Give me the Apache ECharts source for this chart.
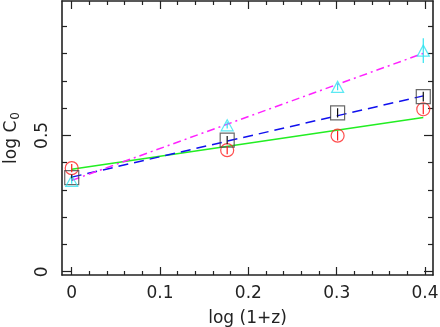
<!DOCTYPE html>
<html>
<head>
<meta charset="utf-8">
<script src="https://cdn.jsdelivr.net/npm/echarts@6/dist/echarts.min.js"></script>
<style>
  html, body { margin: 0; padding: 0; background: #fff; }
  #chart { width: 440px; height: 327px; }
</style>
</head>
<body>
<div id="chart"></div>
<script>
// log(1+z) positions for z = 0, 0.5, 1, 1.5
const xVals = [0, 0.176, 0.301, 0.398];

// measured log C0 values and their error half-widths
const circleY = [0.380, 0.446, 0.499, 0.596];
const circleErr = [0.015, 0.015, 0.018, 0.018];
const squareY = [0.345, 0.483, 0.583, 0.642];
const squareErr = [0.012, 0.015, 0.017, 0.018];
const triangleY = [0.333, 0.537, 0.678, 0.811];
const triangleErr = [0.010, 0.012, 0.012, 0.045];

// fitted lines (end points)
const greenFit = [[0, 0.376], [0.398, 0.566]];
const blueFit = [[0, 0.347], [0.398, 0.645]];
const magentaFit = [[0, 0.335], [0.398, 0.801]];

// tick positions
const xMajor = [0, 0.1, 0.2, 0.3, 0.4];
const xMinor = [0.02, 0.04, 0.06, 0.08, 0.12, 0.14, 0.16, 0.18, 0.22, 0.24, 0.26, 0.28, 0.32, 0.34, 0.36, 0.38];
const yMajor = [0, 0.5];
const yMinor = [0.1, 0.2, 0.3, 0.4, 0.6, 0.7, 0.8, 0.9];

const colors = {
  frame: '#222',
  red: '#ff2020',
  square: '#444',
  cyan: '#33e4f0',
  green: '#22ee22',
  blue: '#1010ee',
  magenta: '#ff22ff'
};

const font = 'DejaVu Sans';
const X_MIN = -0.011, X_MAX = 0.409;
const Y_MIN = -0.012, Y_MAX = 0.993;

function pts(xs, ys) {
  return xs.map((x, i) => [x, ys[i]]);
}

function errData(xs, ys, es) {
  return xs.map((x, i) => [x, ys[i] - es[i], ys[i] + es[i]]);
}

function errSeries(data, color) {
  return {
    type: 'custom',
    data: data,
    z: 4,
    renderItem: (params, api) => {
      const lo = api.coord([api.value(0), api.value(1)]);
      const hi = api.coord([api.value(0), api.value(2)]);
      return {
        type: 'line',
        shape: { x1: lo[0], y1: lo[1], x2: hi[0], y2: hi[1] },
        style: { stroke: color, lineWidth: 1.2 }
      };
    }
  };
}

function xAxisDef(position, ticks, len, showLine, withLabels) {
  return {
    type: 'value', position, min: X_MIN, max: X_MAX,
    axisLine: { show: showLine, onZero: false, lineStyle: { color: colors.frame, width: 1.6 } },
    axisTick: { show: true, inside: true, length: len, customValues: ticks,
      lineStyle: { color: colors.frame, width: 1.2 } },
    axisLabel: withLabels
      ? { show: true, customValues: ticks, margin: 10, color: '#222', fontFamily: font, fontSize: 17 }
      : { show: false },
    splitLine: { show: false }
  };
}

function yAxisDef(position, ticks, len, showLine, withLabels) {
  return {
    type: 'value', position, min: Y_MIN, max: Y_MAX,
    axisLine: { show: showLine, onZero: false, lineStyle: { color: colors.frame, width: 1.6 } },
    axisTick: { show: true, inside: true, length: len, customValues: ticks,
      lineStyle: { color: colors.frame, width: 1.2 } },
    axisLabel: withLabels
      ? { show: true, customValues: ticks, rotate: 90, margin: 11, color: '#222', fontFamily: font, fontSize: 17 }
      : { show: false },
    splitLine: { show: false }
  };
}

const xAxes = [
  xAxisDef('bottom', xMajor, 8, true, true),
  xAxisDef('bottom', xMinor, 4, false, false),
  xAxisDef('top', xMajor, 8, true, false),
  xAxisDef('top', xMinor, 4, false, false)
];
Object.assign(xAxes[0], {
  name: 'log (1+z)', nameLocation: 'middle', nameGap: 35,
  nameTextStyle: { color: '#222', fontFamily: font, fontSize: 17 }
});

const yAxes = [
  yAxisDef('left', yMajor, 9, true, true),
  yAxisDef('left', yMinor, 5, false, false),
  yAxisDef('right', yMajor, 9, true, false),
  yAxisDef('right', yMinor, 5, false, false)
];
Object.assign(yAxes[0], {
  name: 'log C{sub|0}', nameLocation: 'middle', nameGap: 40, nameRotate: 90,
  nameTextStyle: {
    color: '#222', fontFamily: font, fontSize: 17,
    rich: { sub: { fontFamily: font, fontSize: 12, color: '#222', padding: [9, 0, 0, 1] } }
  }
});

const chart = echarts.init(document.getElementById('chart'), null, { renderer: 'canvas' });
chart.setOption({
  animation: false,
  backgroundColor: '#fff',
  grid: { left: 62, top: 1, right: 7, bottom: 52, containLabel: false, outerBoundsMode: 'none' },
  xAxis: xAxes,
  yAxis: yAxes,
  series: [
    {
      type: 'line', data: greenFit, symbol: 'none', z: 2,
      lineStyle: { color: colors.green, width: 1.5, type: 'solid' }
    },
    {
      type: 'line', data: blueFit, symbol: 'none', z: 2,
      lineStyle: { color: colors.blue, width: 1.5, type: [10, 6] }
    },
    {
      type: 'line', data: magentaFit, symbol: 'none', z: 2,
      lineStyle: { color: colors.magenta, width: 1.5, type: [8, 4, 2, 4] }
    },
    errSeries(errData(xVals, circleY, circleErr), colors.red),
    errSeries(errData(xVals, squareY, squareErr), '#111'),
    errSeries(errData(xVals, triangleY, triangleErr), colors.cyan),
    {
      type: 'scatter', data: pts(xVals, circleY), symbol: 'circle', symbolSize: 13, z: 3,
      itemStyle: { color: 'rgba(0,0,0,0)', borderColor: colors.red, borderWidth: 1.2 }
    },
    {
      type: 'scatter', data: pts(xVals, squareY), symbol: 'rect', symbolSize: 14, z: 3,
      itemStyle: { color: 'rgba(0,0,0,0)', borderColor: colors.square, borderWidth: 1.2 }
    },
    {
      type: 'scatter', data: pts(xVals, triangleY), symbol: 'triangle', symbolSize: [12, 11], z: 3,
      itemStyle: { color: 'rgba(0,0,0,0)', borderColor: colors.cyan, borderWidth: 1.2 }
    }
  ]
});
</script>
</body>
</html>
